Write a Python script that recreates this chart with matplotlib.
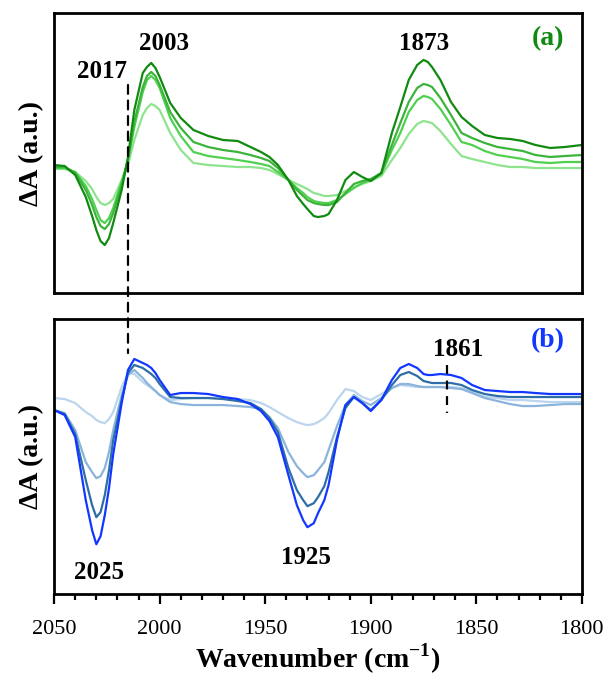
import numpy as np
import matplotlib
matplotlib.use("Agg")
import matplotlib.pyplot as plt
from matplotlib.patches import ConnectionPatch

plt.rcParams['font.family'] = ['Liberation Serif', 'DejaVu Serif']
plt.rcParams['mathtext.fontset'] = 'custom'
plt.rcParams['mathtext.rm'] = 'Liberation Serif'
plt.rcParams['mathtext.bf'] = 'Liberation Serif:bold'

# wavenumber grid (cm-1)
wn = [2050, 2045, 2040, 2035, 2032, 2030, 2028, 2026, 2024, 2022, 2018, 2015, 2012,
      2008, 2006, 2004, 2002, 2000, 1995, 1990, 1984, 1977, 1970, 1963, 1957, 1952,
      1948, 1944, 1939, 1935, 1932, 1930, 1927, 1925, 1922, 1920, 1916, 1912, 1908,
      1904, 1900, 1895, 1890, 1886, 1882, 1878, 1875, 1873, 1871, 1867, 1862, 1857,
      1852, 1846, 1840, 1834, 1828, 1822, 1815, 1808, 1800]

# panel (a) difference spectra, arbitrary units
a1 = [1, 0, -9, -31, -50, -64, -75, -79, -72, -57, -24, 9, 56, 93, 99, 103, 98, 89, 63,
      48, 36, 30, 26, 25, 19, 14, 9, 1, -14, -30, -38, -43, -50, -51, -50, -48, -34, -14,
      -6, -11, -15, -7, 33, 59, 86, 101, 106, 104, 99, 86, 64, 49, 40, 31, 28, 27, 25,
      21, 18, 19, 21]
a2 = [-1, -1, -7, -24, -39, -51, -60, -63, -58, -47, -19, 6, 44, 79, 90, 94, 90, 81, 54,
      38, 24, 19, 16, 14, 11, 8, 5, -2, -14, -24, -30, -34, -37, -38, -39, -39, -36, -27,
      -18, -15, -13, -7, 21, 43, 64, 78, 82, 81, 79, 68, 51, 33, 28, 23, 19, 17, 15,
      11, 9, 10, 11]
a3 = [-2, -2, -6, -20, -33, -44, -54, -57, -52, -42, -16, 6, 39, 74, 86, 90, 86, 78, 48,
      30, 14, 10, 8, 6, 4, 2, 0, -6, -14, -22, -27, -31, -35, -36, -37, -37, -34, -28,
      -22, -17, -14, -8, 16, 33, 54, 66, 70, 69, 67, 57, 41, 24, 21, 15, 11, 9, 7,
      4, 3, 4, 4]
a4 = [-3, -3, -6, -15, -23, -31, -37, -39, -37, -33, -14, 1, 26, 51, 58, 62, 60, 56, 33,
      16, 3, 1, 0, -1, -1, -2, -4, -8, -14, -18, -21, -23, -27, -28, -30, -30, -29, -25,
      -21, -18, -15, -10, 6, 18, 32, 42, 45, 44, 43, 35, 22, 10, 7, 4, 1, -1, -1,
      -2, -2, -2, -2]

# panel (b) difference spectra, arbitrary units
b1 = [0, -5, -27, -90, -120, -134, -126, -105, -78, -44, 7, 40, 51, 47, 45, 42, 37, 30,
      15, 17, 17, 16, 13, 11, 6, -1, -11, -27, -65, -95, -110, -117, -113, -103, -90,
      -75, -30, 5, 13, 7, -1, 10, 30, 42, 46, 42, 36, 35, 35, 36, 35, 32, 25, 20, 19,
      18, 18, 17, 16, 16, 16]
b2 = [0, -4, -24, -70, -95, -107, -102, -85, -60, -30, 10, 37, 45, 42, 39, 36, 32, 26,
      13, 12, 12, 12, 11, 9, 7, 1, -8, -22, -58, -80, -90, -96, -93, -87, -76,
      -62, -27, 2, 13, 7, 0, 10, 25, 35, 38, 34, 29, 28, 27, 27, 27, 25, 20, 16, 14,
      13, 13, 13, 13, 13, 13]
b3 = [0, -3, -20, -52, -62, -68, -66, -58, -42, -20, 15, 35, 40, 32, 27, 23, 19, 15,
      8, 6, 5, 5, 5, 4, 3, 1, -7, -18, -42, -56, -63, -67, -65, -60, -52,
      -40, -16, 5, 15, 9, 5, 12, 22, 26, 26, 24, 23, 23, 23, 23, 22, 21, 17, 12, 9,
      6, 4, 4, 5, 6, 6]
b4 = [12, 11, 7, -2, -6, -10, -12, -13, -9, -2, 23, 37, 36, 28, 25, 22, 19, 15,
      10, 11, 12, 12, 12, 11, 10, 7, 3, -2, -8, -12, -14, -15, -14, -12, -8,
      -3, 10, 21, 19, 13, 10, 16, 22, 25, 24, 23, 23, 23, 23, 23, 23, 22, 18, 13, 12,
      10, 10, 9, 8, 8, 8]

greens = ['#118a11', '#3cb43c', '#4fd04f', '#8ee48e']
blues = ['#1238ff', '#2d6ea6', '#8ab4dc', '#bcd5ee']

fig = plt.figure(figsize=(6.08, 6.8), dpi=100)
ax_a = fig.add_axes([0.089, 0.569, 0.868, 0.412])
ax_b = fig.add_axes([0.089, 0.126, 0.868, 0.405])

for ys, c in zip([a4, a3, a2, a1], greens[::-1]):
    ax_a.plot(wn, ys, color=c, lw=1.6, solid_joinstyle='round')
for ys, c in zip([b4, b3, b2, b1], blues[::-1]):
    ax_b.plot(wn, ys, color=c, lw=1.6, solid_joinstyle='round')

for ax in (ax_a, ax_b):
    ax.set_xlim(2050, 1800)
    ax.set_yticks([])
    for s in ax.spines.values():
        s.set_linewidth(2.0)
    ax.set_ylabel('ΔA (a.u.)', fontsize=20, fontweight='bold', labelpad=7)

ax_a.set_ylim(-127, 153)
ax_b.set_ylim(-184, 91)

ax_a.set_xticks([])
ax_b.set_xticks(np.arange(2050, 1799, -50))
ax_b.set_xticks(np.arange(2050, 1799, -10), minor=True)
ax_b.tick_params(axis='x', which='major', direction='out', length=7, width=1.6,
                 labelsize=16, pad=11.5)
ax_b.tick_params(axis='x', which='minor', direction='out', length=4.5, width=1.6)
ax_b.set_xlabel('Wavenumber (cm$^{\\mathbf{-1}}$)', fontsize=20, fontweight='bold',
                labelpad=2)

ann = dict(fontsize=18, fontweight='bold', ha='center', va='center')
ax_a.text(2027.3, 94, '2017', **ann)
ax_a.text(1997.9, 122, '2003', **ann)
ax_a.text(1874.8, 122, '1873', **ann)
ax_b.text(2028.7, -162, '2025', **ann)
ax_b.text(1930.7, -147, '1925', **ann)
ax_b.text(1858.7, 60, '1861', **ann)

ax_a.text(0.936, 0.91, '(a)', transform=ax_a.transAxes, color='#118a11',
          fontsize=20, fontweight='bold', ha='center', va='center')
ax_b.text(0.936, 0.92, '(b)', transform=ax_b.transAxes, color='#1238ff',
          fontsize=20, fontweight='bold', ha='center', va='center')

# dashed guide lines
con = ConnectionPatch(xyA=(2015, 81), coordsA=ax_a.transData,
                      xyB=(2015, 57), coordsB=ax_b.transData,
                      color='black', lw=1.6, linestyle=(0, (4, 3)))
fig.add_artist(con)
ax_b.plot([1864, 1864], [45, -3], color='black', lw=1.6, linestyle=(0, (4, 3)))

fig.savefig('out.png', dpi=100)
